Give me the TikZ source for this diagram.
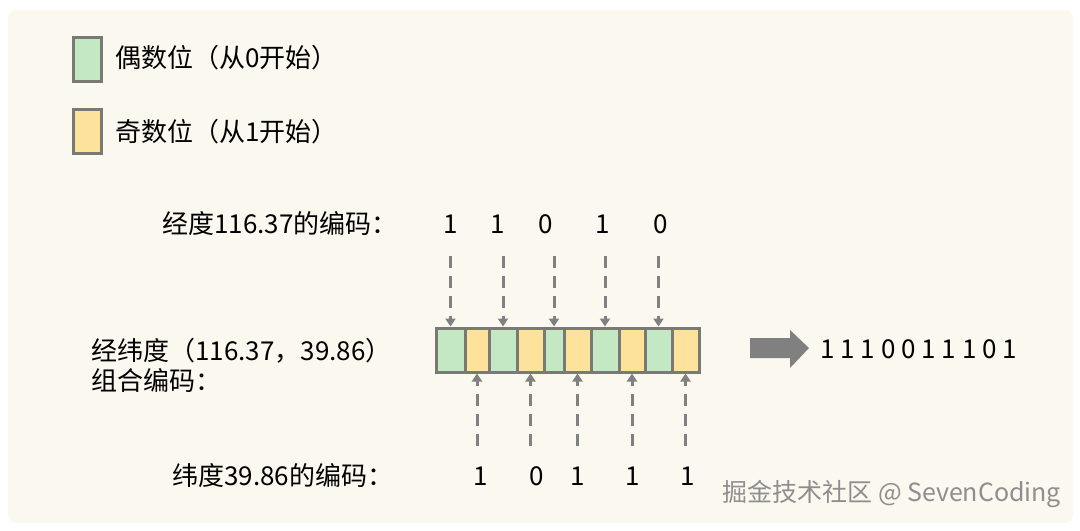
\documentclass[tikz,border=0pt]{standalone}
\usepackage{fontspec}
\setmainfont{Noto Sans CJK SC}
\usetikzlibrary{arrows.meta}
\definecolor{paper}{HTML}{FAF8EF}
\definecolor{evengreen}{HTML}{C5E8C4}
\definecolor{oddyellow}{HTML}{FCE29B}
\definecolor{bk60}{HTML}{7A7A74}
\definecolor{bk50}{HTML}{808080}
\definecolor{wmgray}{HTML}{8E8E8E}

\tikzset{
  textlabel/.style={inner sep=0pt, anchor=west, font=\fontsize{13}{15}\selectfont},
  digit/.style={inner sep=0pt, font=\fontsize{13}{15}\selectfont},
  cell/.style={draw=bk60, line width=1.5pt, minimum height=22pt, inner sep=0pt},
  evencell/.style={cell, fill=evengreen},
  oddcell/.style={cell, fill=oddyellow},
  bitarrow/.style={bk50, line width=1.5pt, dash pattern=on 6pt off 4pt,
    -{Triangle[length=4pt,width=5pt]}},
}

\begin{document}
\begin{tikzpicture}[x=0.5pt, y=-0.5pt]
  \useasboundingbox (0,0) rectangle (1080,530);
  \fill[paper, rounded corners=4pt] (8,10) rectangle (1073,523);

  % Legend
  \node[evencell, minimum width=14pt] (legeven) at (87,59) {};
  \node[textlabel] (legeventext) at (115,58) {偶数位（从0开始）};
  \node[oddcell, minimum width=14pt] (legodd) at (87,131) {};
  \node[textlabel] (legoddtext) at (115,132) {奇数位（从1开始）};

  % Longitude bits
  \node[textlabel] (lontext) at (162,224) {经度116.37的编码：};
  \node[digit] (t1) at (451,224) {1};
  \node[digit] (t2) at (498,224) {1};
  \node[digit] (t3) at (546,224) {0};
  \node[digit] (t4) at (603,224) {1};
  \node[digit] (t5) at (661,224) {0};

  % Combined code
  \node[textlabel] (combtext) at (91,351) {经纬度（116.37，39.86）};
  \node[textlabel] (combtext2) at (91,381) {组合编码：};

  % Cells of the combined code
  \node[evencell, minimum width=14.5pt] (c1) at (450.5,350) {};
  \node[oddcell,  minimum width=12pt]   (c2) at (477,350) {};
  \node[evencell, minimum width=14pt]   (c3) at (503,350) {};
  \node[oddcell,  minimum width=13.5pt] (c4) at (530.5,350) {};
  \node[evencell, minimum width=10pt]   (c5) at (554,350) {};
  \node[oddcell,  minimum width=13.5pt] (c6) at (577.5,350) {};
  \node[evencell, minimum width=14pt]   (c7) at (605,350) {};
  \node[oddcell,  minimum width=13pt]   (c8) at (632,350) {};
  \node[evencell, minimum width=13.5pt] (c9) at (658.5,350) {};
  \node[oddcell,  minimum width=13.5pt] (c10) at (685.5,350) {};

  % Latitude bits
  \node[textlabel] (lattext) at (172,476) {纬度39.86的编码：};
  \node[digit] (b1) at (481,476) {1};
  \node[digit] (b2) at (537,476) {0};
  \node[digit] (b3) at (578,476) {1};
  \node[digit] (b4) at (633,476) {1};
  \node[digit] (b5) at (688,476) {1};

  % Arrows down into the even cells
  \draw[bitarrow, shorten <=11pt] (c1.north |- t1.south) -- (c1.north);
  \draw[bitarrow, shorten <=11pt] (c3.north |- t2.south) -- (c3.north);
  \draw[bitarrow, shorten <=11pt] (c5.north |- t3.south) -- (c5.north);
  \draw[bitarrow, shorten <=11pt] (c7.north |- t4.south) -- (c7.north);
  \draw[bitarrow, shorten <=11pt] (c9.north |- t5.south) -- (c9.north);

  % Arrows up into the odd cells
  \draw[bitarrow, shorten <=10pt] (c2.south |- b1.north) -- (c2.south);
  \draw[bitarrow, shorten <=10pt] (c4.south |- b2.north) -- (c4.south);
  \draw[bitarrow, shorten <=10pt] (c6.south |- b3.north) -- (c6.south);
  \draw[bitarrow, shorten <=10pt] (c8.south |- b4.north) -- (c8.south);
  \draw[bitarrow, shorten <=10pt] (c10.south |- b5.north) -- (c10.south);

  % Result
  \fill[bk50] (750,338) -- (790,338) -- (790,330) -- (809,348)
    -- (790,368) -- (790,358) -- (750,358) -- cycle;
  \node[textlabel] (result) at (820,349) {1 1 1 0 0 1 1 1 0 1};

  % Watermark
  \node[textlabel, text=wmgray, font=\fontsize{12.5}{14}\selectfont] (wm) at (722,494)
    {掘金技术社区 @ SevenCoding};
\end{tikzpicture}
\end{document}
